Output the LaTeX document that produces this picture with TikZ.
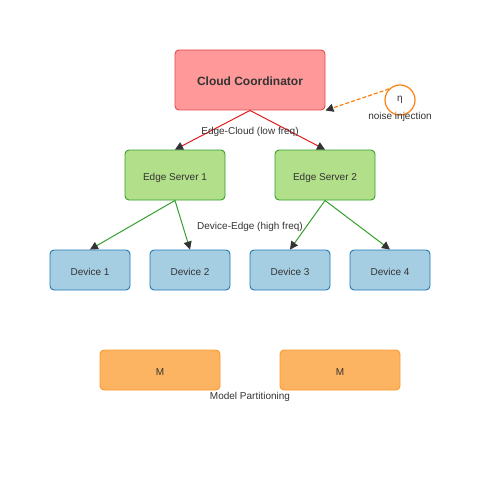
\documentclass[tikz,border=0pt]{standalone}
\usepackage{fontspec}
\setmainfont{Liberation Sans}
\usetikzlibrary{arrows.meta}
\definecolor{txt}{HTML}{333333}
\definecolor{cloudfill}{HTML}{FF9999}
\definecolor{cloudline}{HTML}{E04848}
\definecolor{redl}{HTML}{E31A1C}
\definecolor{edgefill}{HTML}{B2DF8A}
\definecolor{edgeline}{HTML}{33A02C}
\definecolor{devfill}{HTML}{A6CEE3}
\definecolor{devline}{HTML}{1F78B4}
\definecolor{mfill}{HTML}{FDB462}
\definecolor{mline}{HTML}{FF9A2E}
\definecolor{orng}{HTML}{FF7F0E}
\tikzset{
  box/.style={draw, rounded corners=4pt, line width=0.9pt, inner sep=0pt, text=txt, text height=10.5pt, text depth=0pt, font=\fontsize{10}{12}\selectfont},
  cloudbox/.style={box, fill=cloudfill, draw=cloudline, minimum width=150pt, minimum height=60pt, font=\bfseries\fontsize{12}{14}\selectfont},
  edgebox/.style={box, fill=edgefill, draw=edgeline, minimum width=100pt, minimum height=50pt},
  devbox/.style={box, fill=devfill, draw=devline, minimum width=80pt, minimum height=40pt},
  mbox/.style={box, fill=mfill, draw=mline, minimum width=120pt, minimum height=40pt},
  lbl/.style={text=txt, font=\fontsize{10}{12}\selectfont, inner sep=0pt},
  redline/.style={draw=redl, line width=1pt, -{Triangle[length=8pt,width=8pt,color=txt]}},
  greenline/.style={draw=edgeline, line width=1pt, -{Triangle[length=8pt,width=8pt,color=txt]}},
}
\begin{document}
\begin{tikzpicture}[x=1pt,y=-1pt]
\useasboundingbox (0,0) rectangle (500,500);
\node[cloudbox] (cloud) at (250,80) {Cloud Coordinator};
\node[edgebox] (es1) at (175,175) {Edge Server 1};
\node[edgebox] (es2) at (325,175) {Edge Server 2};
\node[devbox] (d1) at (90,270) {Device 1};
\node[devbox] (d2) at (190,270) {Device 2};
\node[devbox] (d3) at (290,270) {Device 3};
\node[devbox] (d4) at (390,270) {Device 4};
\node[mbox] (m1) at (160,370) {M};
\node[mbox] (m2) at (340,370) {M};
\node[circle, draw=orng, line width=1.2pt, fill=white, minimum size=30pt, inner sep=0pt, text=txt, font=\fontsize{10}{12}\selectfont] (eta) at (400,100) {η};
\node[lbl] (noise) at (400,117) {noise injection};
\draw[redline] (cloud.south) -- (es1.north);
\draw[redline] (cloud.south) -- (es2.north);
\node[lbl] (ec) at (250,131.5) {Edge-Cloud (low freq)};
\draw[greenline] (es1.south) -- (d1.north);
\draw[greenline] (es1.south) -- (d2.north);
\draw[greenline] (es2.south) -- (d3.north);
\draw[greenline] (es2.south) -- (d4.north);
\node[lbl] (de) at (250,226.5) {Device-Edge (high freq)};
\draw[draw=orng, line width=1.2pt, dash pattern=on 4pt off 2pt, -{Triangle[length=8pt,width=8pt,color=txt]}] (eta.135) -- (cloud.south east);
\node[lbl] (mp) at (250,396.5) {Model Partitioning};
\end{tikzpicture}
\end{document}
